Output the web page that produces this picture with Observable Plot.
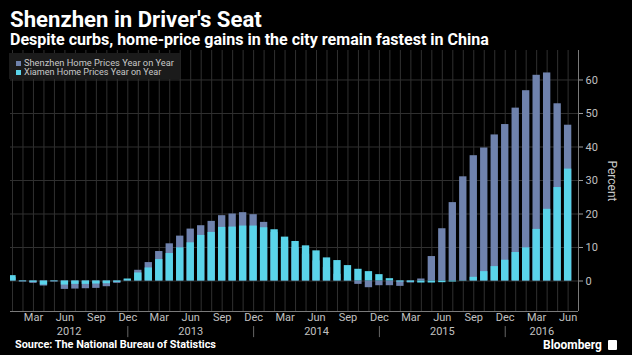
<!DOCTYPE html>
<html>
<head>
<meta charset="utf-8">
<script src="https://cdn.jsdelivr.net/npm/d3@7"></script>
<script src="https://cdn.jsdelivr.net/npm/@observablehq/plot@0.6"></script>
<style>
  html, body { margin: 0; padding: 0; background: #000; }
  #page { position: relative; width: 632px; height: 355px; overflow: hidden; background: #000; font-family: Roboto, "Open Sans", sans-serif; }
  .abs { position: absolute; white-space: nowrap; line-height: 1; }
  #title { left: 10px; top: 8px; color: #fff; font-weight: 700; font-size: 19px; }
  #subtitle { left: 10px; top: 32px; color: #fff; font-weight: 700; font-size: 13px; }
  #legend { left: 9px; top: 53px; width: 171px; height: 26px; background: #1b1b1b; }
  .leg { position: absolute; left: 7px; font-size: 8.5px; color: #c8c8c8; white-space: nowrap; line-height: 1; }
  .sw { display: inline-block; width: 5px; height: 5px; margin-right: 3px; vertical-align: 0px; }
  #percent { left: 612px; top: 181px; color: #c8c8c8; font-size: 12px; transform: translate(-50%, -50%) rotate(90deg); }
  #source { left: 15px; top: 340px; color: #fff; font-weight: 700; font-size: 9.5px; }
  #bbg { left: 543px; top: 340px; color: #fff; font-weight: 700; font-size: 12px; }
  #icon { left: 608px; top: 340px; width: 9px; height: 10px; background: #fff; border-radius: 1px; }
  #chart { position: absolute; left: 0; top: 0; }
</style>
</head>
<body>
<div id="page">
  <div id="chart"></div>
  <div id="title" class="abs">Shenzhen in Driver's Seat</div>
  <div id="subtitle" class="abs">Despite curbs, home-price gains in the city remain fastest in China</div>
  <div id="legend" class="abs">
    <div class="leg" id="leg1" style="top:5px"><span class="sw" style="background:#6f82ad"></span>Shenzhen Home Prices Year on Year</div>
    <div class="leg" id="leg2" style="top:15px"><span class="sw" style="background:#5ad4ea"></span>Xiamen Home Prices Year on Year</div>
  </div>
  <div id="percent" class="abs">Percent</div>
  <div id="source" class="abs">Source: The National Bureau of Statistics</div>
  <div id="bbg" class="abs">Bloomberg</div>
  <div id="icon" class="abs"></div>
</div>
<script>
// ---- data (monthly, Jan 2012 – Jun 2016) ----
const monthNames = ["Jan","Feb","Mar","Apr","May","Jun","Jul","Aug","Sep","Oct","Nov","Dec"];
const years = ["2012","2013","2014","2015","2016"];
const labeledMonths = ["Mar","Jun","Sep","Dec"];
const yTicks = [0, 10, 20, 30, 40, 50, 60];

const shenzhen = [
  1.0, -0.3, -0.7, -1.5, -0.3, -2.5, -2.4, -2.3, -2.2, -1.7, -0.7, 0.3,
  3.2, 5.5, 8.8, 11.1, 13.4, 15.5, 16.5, 17.8, 19.5, 20.0, 20.4, 19.8,
  17.5, 14.5, 12.0, 10.0, 8.0, 6.0, 4.0, 2.0, 0.3, -1.0, -2.0, -1.4,
  -1.4, -1.6, -0.6, 0.6, 7.3, 15.6, 23.4, 31.1, 37.4, 39.7, 43.6, 46.7,
  51.6, 56.8, 61.4, 62.1, 52.9, 46.5
];
const xiamen = [
  1.6, -0.2, -0.4, -1.2, -0.2, -1.2, -1.0, -1.0, -0.9, -0.8, -0.4, 0.6,
  2.4, 3.9, 6.4, 8.2, 9.9, 11.4, 13.6, 14.5, 16.0, 16.1, 16.4, 16.4,
  15.9, 15.3, 13.1, 11.8, 10.5, 9.0, 6.9, 6.1, 4.6, 3.5, 2.8, 1.9,
  0.7, -0.3, -0.4, -0.6, -0.6, -0.5, -0.3, 0.1, 1.1, 2.8, 4.3, 6.2,
  8.5, 9.9, 15.4, 21.4, 27.9, 33.4
];

const data = shenzhen.map((v, i) => ({
  i, sz: v, xm: xiamen[i], month: monthNames[i % 12], year: years[Math.floor(i / 12)]
}));

const n = data.length;
const xDomain = [-0.19, n - 0.01];
const yDomain = [-9.1, 68.8];
const half = 0.35;

const labeledIdx = data.filter(d => labeledMonths.includes(d.month)).map(d => d.i);
const decIdx = data.filter(d => d.month === "Dec").map(d => d.i);
const yearLabels = years.map((y, k) => {
  const left = k === 0 ? xDomain[0] : 12 * k - 1;
  const right = 12 * k + 11 < n ? 12 * k + 11 : xDomain[1];
  return { year: y, c: (left + right) / 2 };
});

const chart = Plot.plot({
  width: 632,
  height: 355,
  marginTop: 50,
  marginBottom: 44,
  marginLeft: 10,
  marginRight: 54,
  style: { background: "transparent", color: "#c0c0c0", fontFamily: "Roboto, sans-serif", fontSize: "11px", overflow: "visible" },
  x: { type: "linear", domain: xDomain, axis: null },
  y: { domain: yDomain, axis: null },
  marks: [
    Plot.ruleX(data, { x: "i", stroke: "#303030", strokeWidth: 1 }),
    Plot.ruleY(yTicks, { stroke: "#303030", strokeWidth: 1 }),
    Plot.rect(data, { x1: d => d.i - half, x2: d => d.i + half, y1: 0, y2: "sz", fill: "#6f82ad", clip: true }),
    Plot.rect(data, { x1: d => d.i - half, x2: d => d.i + half, y1: 0, y2: "xm", fill: "#5ad4ea", clip: true }),
    Plot.ruleY([yDomain[0]], { stroke: "#7a7a7a" }),
    Plot.ruleX([xDomain[1]], { stroke: "#7a7a7a" }),
    Plot.axisY({ anchor: "right", ticks: yTicks, tickSize: 4, tickPadding: 3, label: null, stroke: "#9a9a9a", fontSize: 11 }),
    Plot.axisX({ ticks: labeledIdx, tickFormat: i => monthNames[i % 12], tickSize: 0, tickPadding: 2, label: null, fontSize: 11 }),
    Plot.text(yearLabels, { x: "c", y: () => yDomain[0], dy: 20, text: "year", fontSize: 11 }),
    Plot.ruleX(decIdx, { x: d => d, y1: yDomain[0] - 4.5, y2: yDomain[0] - 7.8, stroke: "#666" })
  ]
});
document.getElementById("chart").appendChild(chart);

// fit text widths to the reference layout
function fit(id, target) {
  const el = document.getElementById(id);
  const w = el.getBoundingClientRect().width;
  const fs = parseFloat(getComputedStyle(el).fontSize);
  if (w > 0) el.style.fontSize = (fs * target / w) + "px";
}
fit("title", 252);
fit("subtitle", 479);
fit("source", 201);
fit("bbg", 59);
fit("leg1", 159);
fit("leg2", 146);
</script>
</body>
</html>
